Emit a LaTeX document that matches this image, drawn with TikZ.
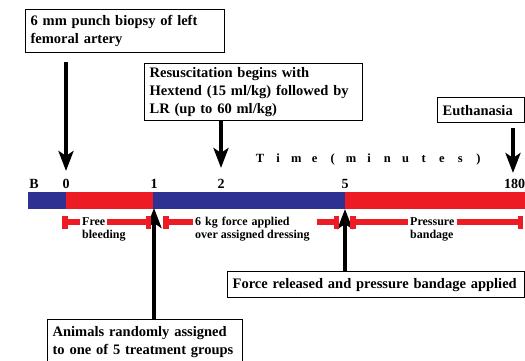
\documentclass[tikz,border=0pt]{standalone}
\usepackage{fontspec}
\setmainfont{Liberation Serif}
\usetikzlibrary{arrows.meta}
\definecolor{tlred}{HTML}{ED1C24}
\definecolor{tlblue}{HTML}{2E3192}
\begin{document}
\begin{tikzpicture}[x=1pt,y=-1pt,
  box/.style={draw, line width=1.3pt, anchor=north west, inner xsep=5pt, inner ysep=0pt,
    align=left, font=\fontsize{14.5}{18}\selectfont\bfseries},
  num/.style={anchor=base, inner sep=0pt, font=\fontsize{14}{16}\selectfont\bfseries},
  timech/.style={anchor=base, inner sep=0pt, font=\fontsize{12.5}{14}\selectfont\bfseries},
  spanlbl/.style={anchor=base west, inner xsep=2pt, inner ysep=0pt, align=left,
    font=\fontsize{12}{14}\selectfont\bfseries},
  spanline/.style={draw=tlred, line width=5.5pt},
  arr/.style={line width=4pt, -{Stealth[length=20pt,width=15pt,inset=5pt]}}]
\useasboundingbox (0,0) rectangle (525,361);

% time bar
\fill[tlblue] (28,192) rectangle (66,209);
\fill[tlred] (66,192) rectangle (153,209);
\fill[tlblue] (153,192) rectangle (345,209);
\fill[tlred] (345,192) rectangle (526,209);

% tick labels
\node[num] (lB) at (34,188) {B};
\node[num] (l0) at (66,188) {0};
\node[num] (l1) at (154,188) {1};
\node[num] (l2) at (221,188) {2};
\node[num] (l5) at (345,188) {5};
\node[num, anchor=base west] (l180) at (504,188) {180};

% Time (minutes)
\foreach \c [count=\k from 0] in {T,i,m,e,{(},m,i,n,u,t,e,s,{)}}
  \node[timech] (tc\k) at ({260+18.2*\k},162) {\c};

% boxes
\node[box, text width=189pt, minimum height=43pt] (b1) at (25,9)
  {6 mm punch biopsy of left\\femoral artery};
\node[box, text width=208pt, minimum height=57pt] (b2) at (144,63)
  {Resuscitation begins with\\Hextend (15 ml/kg) followed by\\LR (up to 60 ml/kg)};
\node[box, text width=77pt, minimum height=25pt] (b3) at (437,97) {Euthanasia};
\node[box, text width=287pt, minimum height=26pt] (b4) at (227,271)
  {Force released and pressure bandage applied};
\node[box, text width=185pt, minimum height=44pt] (b5) at (47,319)
  {Animals randomly assigned\\to one of 5 treatment groups};

% arrows
\coordinate (a0s) at (66,62);
\coordinate (a0e) at (66,171);
\coordinate (a2e) at (221,168);
\coordinate (aEs) at (513,128);
\coordinate (aEe) at (513,173);
\coordinate (a1e) at (154,208);
\coordinate (a5e) at (345,209);
\draw[arr] (a0s) -- (a0e);
\draw[arr] (b2.south -| a2e) -- (a2e);
\draw[arr] (aEs) -- (aEe);
\draw[arr] (b5.north -| a1e) -- (a1e);
\draw[arr] (b4.north -| a5e) -- (a5e);

% span labels
\node[spanlbl] (f1) at (80,225) {Free};
\node[spanlbl] (f1b) at (80,238) {bleeding};
\node[spanlbl, text width=120pt] (f2) at (193,225) {6 kg force applied};
\node[spanlbl] (f2b) at (193,238) {over assigned dressing};
\node[spanlbl] (f3) at (408,225) {Pressure};
\node[spanlbl] (f3b) at (408,238) {bandage};

\coordinate (s1a) at (62,222);
\coordinate (s1b) at (151,222);
\coordinate (s2a) at (163,222);
\coordinate (s2b) at (339,222);
\coordinate (s3a) at (350,222);
\coordinate (s3b) at (523,222);
\draw[spanline, {Bar[width=13pt,length=4pt]}-] (s1a) -- (f1.west |- s1a);
\draw[spanline, -{Bar[width=13pt,length=4pt]}] (f1.east |- s1b) -- (s1b);
\draw[spanline, {Bar[width=13pt,length=4pt]}-] (s2a) -- (f2.west |- s2a);
\draw[spanline, -{Bar[width=13pt,length=4pt]}] (f2.east |- s2b) -- (s2b);
\draw[spanline, {Bar[width=13pt,length=4pt]}-] (s3a) -- (f3.west |- s3a);
\draw[spanline, -{Bar[width=13pt,length=4pt]}] (f3.east |- s3b) -- (s3b);
\end{tikzpicture}
\end{document}
